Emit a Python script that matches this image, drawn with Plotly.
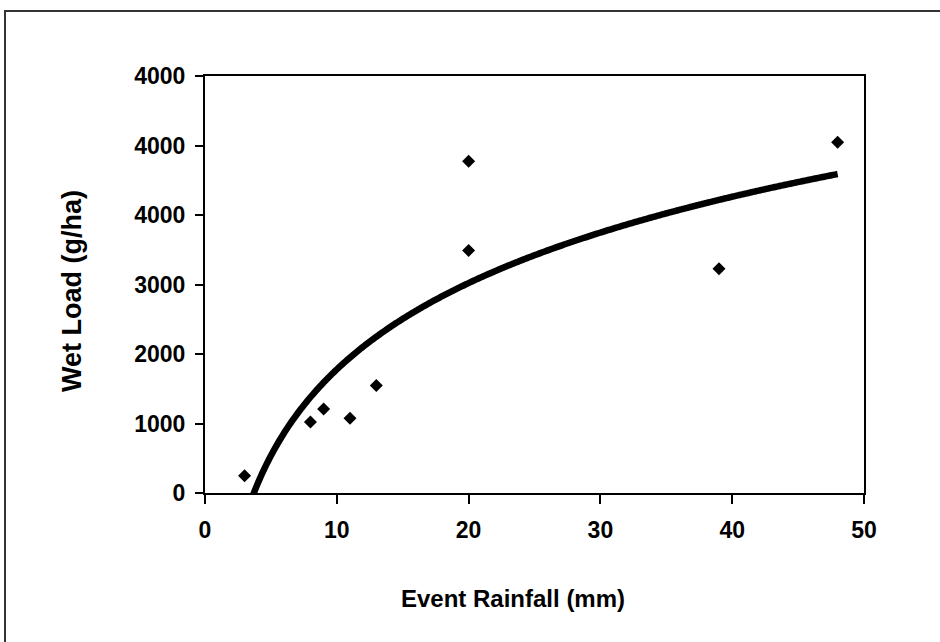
import numpy as np
import plotly.graph_objects as go

# Data
rainfall_mm = [3, 8, 9, 11, 13, 20, 20, 39, 48]
wet_load_g_ha = [250, 1020, 1210, 1075, 1545, 4775, 3490, 3225, 5045]

x_tickvals = [0, 10, 20, 30, 40, 50]
y_tickvals = [0, 1000, 2000, 3000, 4000, 5000, 6000]
y_ticktext = ["0", "1000", "2000", "3000", "4000", "4000", "4000"]

# Logarithmic trendline fitted to the data (as in the original spreadsheet chart)
a, b = np.polyfit(np.log(rainfall_mm), wet_load_g_ha, 1)
trend_x = np.linspace(min(rainfall_mm), max(rainfall_mm), 400)
trend_y = a * np.log(trend_x) + b

FONT = "Arial, Liberation Sans, sans-serif"

fig = go.Figure()
fig.add_trace(go.Scatter(
    x=trend_x, y=trend_y, mode="lines",
    line=dict(color="black", width=6.5, simplify=False),
    hoverinfo="skip", showlegend=False,
))
fig.add_trace(go.Scatter(
    x=rainfall_mm, y=wet_load_g_ha, mode="markers",
    marker=dict(symbol="diamond", size=10, color="black", line=dict(width=0)),
    showlegend=False,
))

L, R, T, B = 205, 76, 76, 149
W, H = 940, 642
pw, ph = W - L - R, H - T - B

def px(xp):
    return (xp - L) / pw

def py(yp):
    return (H - B - yp) / ph

frame_line = dict(color="#333333", width=2)

fig.update_layout(
    width=W, height=H,
    margin=dict(l=L, r=R, t=T, b=B),
    paper_bgcolor="white", plot_bgcolor="white",
    font=dict(family=FONT, size=24, color="black"),
    xaxis=dict(
        range=[0, 50], tickvals=x_tickvals, showgrid=False, zeroline=False,
        showline=True, linecolor="black", linewidth=2, mirror=True,
        ticks="outside", ticklen=9, tickwidth=2, tickcolor="black",
        ticklabelstandoff=6,
        tickfont=dict(family=FONT, size=23, color="black", weight="bold"),
    ),
    yaxis=dict(
        range=[0, 6000], tickvals=y_tickvals, ticktext=y_ticktext,
        showgrid=False, zeroline=False,
        showline=True, linecolor="black", linewidth=2, mirror=True,
        ticks="outside", ticklen=8, tickwidth=2, tickcolor="black",
        ticklabelstandoff=5,
        tickfont=dict(family=FONT, size=23, color="black", weight="bold"),
    ),
    annotations=[
        dict(text="<b>Event Rainfall (mm)</b>", xref="paper", yref="paper",
             x=px(513), y=py(598), showarrow=False,
             xanchor="center", yanchor="middle",
             font=dict(family=FONT, size=24, color="black")),
        dict(text="<b>Wet Load (g/ha)</b>", xref="paper", yref="paper",
             x=px(72), y=py(291), showarrow=False, textangle=-90,
             xanchor="center", yanchor="middle",
             font=dict(family=FONT, size=27, color="black")),
    ],
    shapes=[
        dict(type="line", xref="paper", yref="paper",
             x0=px(4), x1=px(945), y0=py(11), y1=py(11),
             line=frame_line, layer="below"),
        dict(type="line", xref="paper", yref="paper",
             x0=px(5), x1=px(5), y0=py(10), y1=py(650),
             line=frame_line, layer="below"),
    ],
)

fig.write_html(
    "out.html",
    config={"displayModeBar": False},
    post_script=(
        "document.body.style.margin='0';"
        "document.body.style.overflow='hidden';"
        "document.documentElement.style.overflow='hidden';"
    ),
)
